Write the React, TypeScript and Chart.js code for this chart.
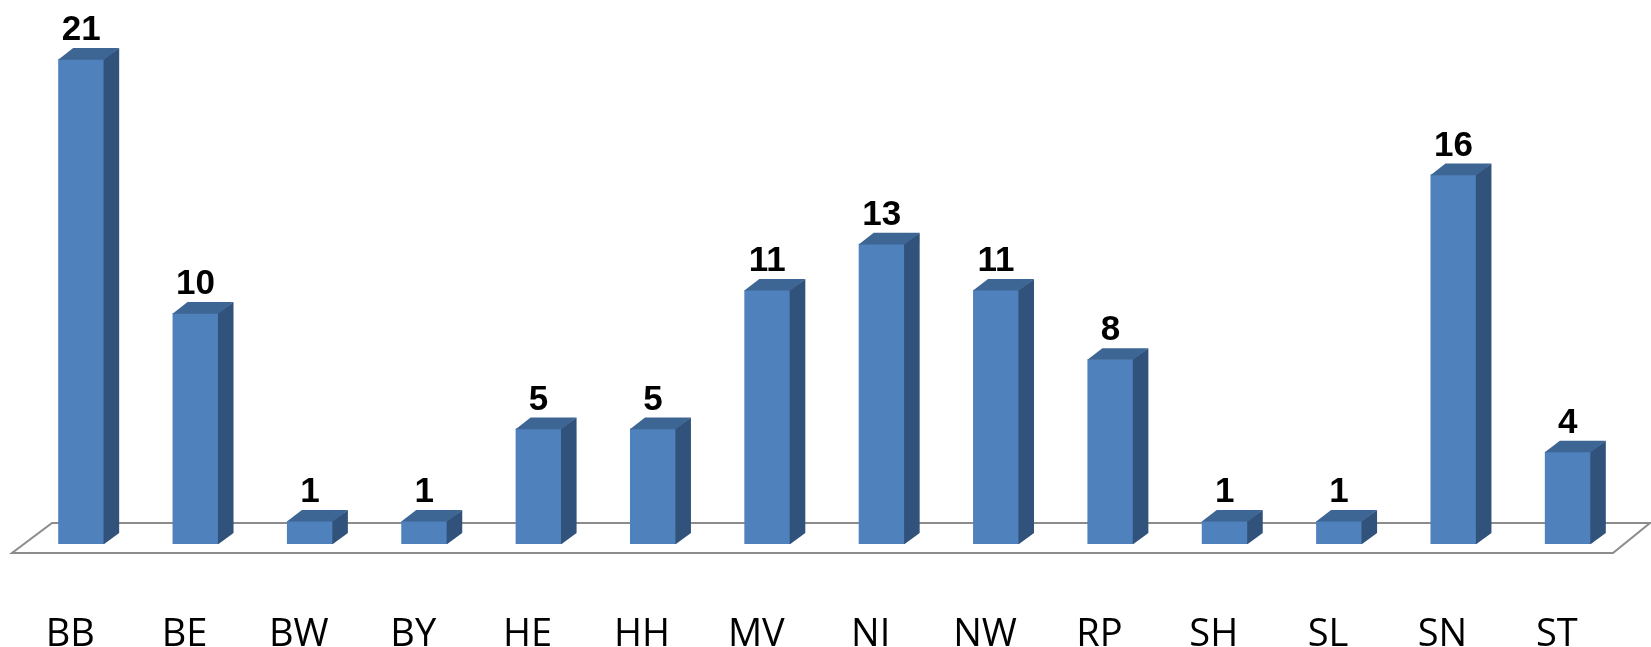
import React, { useEffect, useRef } from "react";
import { Chart, registerables } from "chart.js";

Chart.register(...registerables);

const categories = ["BB", "BE", "BW", "BY", "HE", "HH", "MV", "NI", "NW", "RP", "SH", "SL", "SN", "ST"];
const counts = [21, 10, 1, 1, 5, 5, 11, 13, 11, 8, 1, 1, 16, 4];

const FRONT = "#4F81BD";
const TOP = "#3D6694";
const SIDE = "#31527A";
const DEPTH_X = 15;
const DEPTH_Y = 11;

const floorPlugin = {
  id: "floor3d",
  beforeDatasetsDraw(chart: any) {
    const { ctx, chartArea } = chart;
    const { left, right, bottom } = chartArea;
    ctx.save();
    ctx.beginPath();
    ctx.moveTo(left - 12, bottom + 9);
    ctx.lineTo(right - 12, bottom + 9);
    ctx.lineTo(right + 25, bottom - 21);
    ctx.lineTo(left + 28, bottom - 21);
    ctx.closePath();
    ctx.fillStyle = "#ffffff";
    ctx.fill();
    ctx.strokeStyle = "#8C8C8C";
    ctx.lineWidth = 2;
    ctx.stroke();
    ctx.restore();
  },
};

const bar3dPlugin = {
  id: "bar3d",
  afterDatasetsDraw(chart: any) {
    const { ctx } = chart;
    const meta = chart.getDatasetMeta(0);
    const data = chart.data.datasets[0].data as number[];
    ctx.save();
    meta.data.forEach((el: any, i: number) => {
      const { x, y, base, width } = el.getProps(["x", "y", "base", "width"], true);
      const l = x - width / 2;
      const r = x + width / 2;
      // side face
      ctx.beginPath();
      ctx.moveTo(r - 0.6, y);
      ctx.lineTo(r + DEPTH_X, y - DEPTH_Y);
      ctx.lineTo(r + DEPTH_X, base - DEPTH_Y);
      ctx.lineTo(r, base);
      ctx.lineTo(r - 0.6, base);
      ctx.closePath();
      ctx.fillStyle = SIDE;
      ctx.fill();
      // top face
      ctx.beginPath();
      ctx.moveTo(l, y + 0.6);
      ctx.lineTo(r, y + 0.6);
      ctx.lineTo(r + DEPTH_X, y - DEPTH_Y);
      ctx.lineTo(l + DEPTH_X, y - DEPTH_Y);
      ctx.closePath();
      ctx.fillStyle = TOP;
      ctx.fill();
      // value label
      ctx.fillStyle = "#000000";
      ctx.font = "bold 35px 'Liberation Sans', Arial, sans-serif";
      ctx.textAlign = "center";
      ctx.textBaseline = "alphabetic";
      ctx.fillText(String(data[i]), x, y - DEPTH_Y - 8);
    });
    ctx.restore();
  },
};

export default function App() {
  const canvasRef = useRef<HTMLCanvasElement | null>(null);

  useEffect(() => {
    if (!canvasRef.current) return;
    const chart = new Chart(canvasRef.current, {
      type: "bar",
      data: {
        labels: categories,
        datasets: [
          {
            data: counts,
            backgroundColor: FRONT,
            borderWidth: 0,
            categoryPercentage: 1,
            barPercentage: 0.402,
          },
        ],
      },
      options: {
        responsive: false,
        animation: false,
        devicePixelRatio: 1,
        layout: { padding: { top: 36, left: 24, right: 26, bottom: 0 } },
        plugins: {
          legend: { display: false },
          tooltip: { enabled: false },
        },
        scales: {
          x: {
            grid: { display: false, drawTicks: true, tickLength: 66 },
            border: { display: false },
            ticks: {
              color: "#000000",
              font: { family: "'Open Sans', sans-serif", size: 38 },
              padding: 2,
              labelOffset: -11,
              maxRotation: 0,
              autoSkip: false,
            },
            afterFit: (scale: any) => {
              scale.height = 103;
              scale.paddingLeft = 0;
              scale.paddingRight = 0;
            },
          },
          y: {
            display: false,
            min: 0,
            max: 22,
          },
        },
      },
      plugins: [floorPlugin, bar3dPlugin],
    });
    return () => chart.destroy();
  }, []);

  return (
    <div style={{ position: "absolute", left: 0, top: 0, width: 1651, height: 647, background: "#ffffff" }}>
      <canvas ref={canvasRef} width={1651} height={647} style={{ display: "block" }} />
    </div>
  );
}
